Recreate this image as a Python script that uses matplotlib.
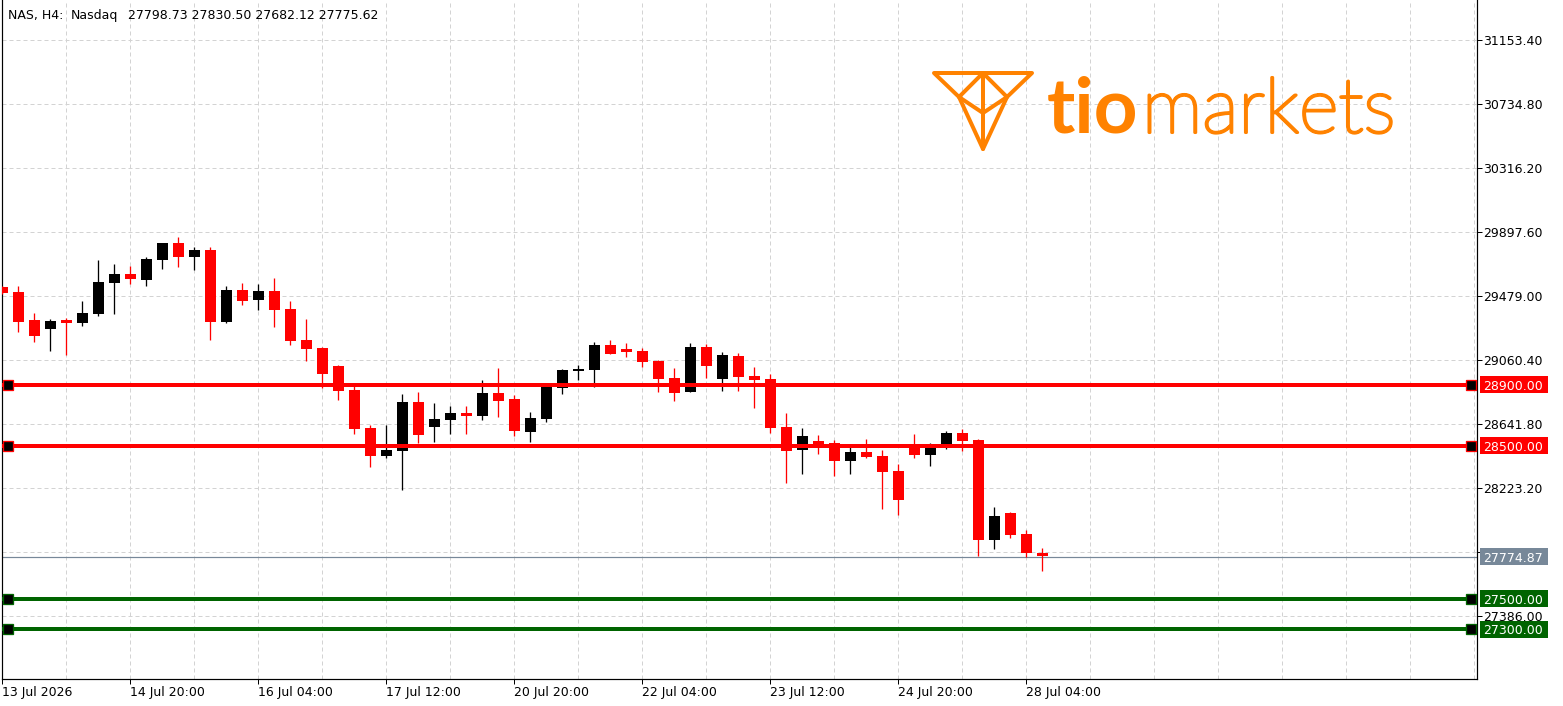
import matplotlib
matplotlib.use("Agg")
import matplotlib.pyplot as plt
import matplotlib.transforms as mtransforms
import matplotlib.patheffects as pe
from matplotlib.patches import Rectangle, Polygon
import numpy as np

# ---------------- data ----------------
header_symbol = "NAS, H4:"
header_name = "Nasdaq"
header_ohlc = [27798.73, 27830.50, 27682.12, 27775.62]

opens = [29540, 29507, 29324, 29265, 29324, 29304, 29363, 29566, 29623, 29586,
         29716, 29826, 29736, 29780, 29311, 29518, 29455, 29512, 29394, 29191,
         29139, 29021, 28864, 28616, 28435, 28467, 28786, 28624, 28670, 28714,
         28694, 28845, 28805, 28590, 28675, 28877, 28990, 28995, 29159, 29132,
         29119, 29054, 28943, 28853, 29145, 28938, 29087, 28956, 28936, 28622,
         28474, 28533, 28518, 28402, 28459, 28433, 28334, 28485, 28441, 28487,
         28583, 28537, 27885, 28060, 27922, 27798.73]
highs = [29545, 29546, 29370, 29329, 29335, 29448, 29714, 29690, 29675, 29734,
         29828, 29865, 29798, 29800, 29544, 29564, 29558, 29597, 29446, 29329,
         29144, 29028, 28890, 28635, 28637, 28838, 28851, 28779, 28762, 28760,
         28930, 29008, 28832, 28720, 28897, 29002, 29028, 29178, 29191, 29172,
         29139, 29060, 29008, 29172, 29165, 29113, 29106, 29015, 28969, 28714,
         28616, 28570, 28537, 28505, 28544, 28472, 28380, 28576, 28518, 28596,
         28609, 28544, 28099, 28066, 27949, 27830.50]
lows = [29495, 29245, 29180, 29121, 29093, 29283, 29350, 29363, 29559, 29546,
        29658, 29671, 29651, 29193, 29304, 29422, 29389, 29278, 29160, 29056,
        28879, 28801, 28578, 28363, 28421, 28212, 28520, 28526, 28578, 28578,
        28670, 28688, 28563, 28524, 28655, 28840, 28930, 28884, 29100, 29082,
        29017, 28853, 28794, 28850, 28945, 28860, 28860, 28748, 28585, 28258,
        28317, 28448, 28304, 28317, 28421, 28088, 28049, 28421, 28369, 28480,
        28467, 27780, 27826, 27898, 27774, 27682.12]
closes = [29501, 29311, 29219, 29316, 29304, 29368, 29571, 29623, 29592, 29721,
          29826, 29736, 29780, 29311, 29518, 29448, 29512, 29389, 29187, 29134,
          28971, 28860, 28609, 28435, 28472, 28786, 28572, 28675, 28714, 28694,
          28845, 28792, 28598, 28681, 28884, 28995, 29001, 29159, 29102, 29113,
          29049, 28938, 28847, 29145, 29023, 29093, 28951, 28932, 28618, 28467,
          28563, 28498, 28402, 28459, 28428, 28330, 28147, 28441, 28504, 28583,
          28533, 27885, 28040, 27918, 27800, 27775.62]

x_tick_index = [0, 8, 16, 24, 32, 40, 48, 56, 64]
x_tick_labels = ["13 Jul 2026", "14 Jul 20:00", "16 Jul 04:00", "17 Jul 12:00",
                 "20 Jul 20:00", "22 Jul 04:00", "23 Jul 12:00", "24 Jul 20:00",
                 "28 Jul 04:00"]
y_ticks = [31153.40, 30734.80, 30316.20, 29897.60, 29479.00, 29060.40,
           28641.80, 28223.20, 27804.60, 27386.00]
resistance_levels = [28900.00, 28500.00]
support_levels = [27500.00, 27300.00]
current_price = 27774.87

# ---------------- styling ----------------
W, H = 1563, 706
DPI = 100
PX = 72.0 / DPI
RED = "#ff0000"
GREEN = "#006400"
GRAY = "#778899"
GRID = "#d3d3d3"
ORANGE = "#ff8200"
FS = 9

plt.rcParams["font.family"] = ["DejaVu Sans"]

fig = plt.figure(figsize=(W / DPI, H / DPI), dpi=DPI)
ax_left, ax_right, ax_top, ax_bottom = 2.3, 1477.3, 0.0, 679.0
ax = fig.add_axes([ax_left / W, (H - ax_bottom) / H,
                   (ax_right - ax_left) / W, (ax_bottom - ax_top) / H])

y_lo, y_hi = 26973.94, 31415.03
ax.set_ylim(y_lo, y_hi)
ax.set_xlim(0, 92.1875)
px_per_data_y = (ax_bottom - ax_top) / (y_hi - y_lo)
data_per_px_y = 1.0 / px_per_data_y
ax_w_px = ax_right - ax_left

# grid
ax.set_xticks(np.arange(0, 93, 4), minor=True)
ax.set_xticks(x_tick_index)
ax.set_xticklabels(x_tick_labels, fontsize=FS)
for lab in ax.get_xticklabels():
    lab.set_horizontalalignment("left")
ax.set_yticks(y_ticks)
ax.set_yticklabels([f"{v:.2f}" for v in y_ticks], fontsize=FS)
ax.yaxis.tick_right()
ax.tick_params(axis="y", which="major", length=4.5 * PX, width=PX, pad=1.5 * PX, direction="out")
ax.tick_params(axis="x", which="major", length=4.5 * PX, width=PX, pad=2.5 * PX, direction="out")
ax.tick_params(axis="x", which="minor", length=0)
ax.grid(True, which="both", axis="x", color=GRID, lw=PX, linestyle=(0, (4, 3)))
ax.grid(True, which="major", axis="y", color=GRID, lw=PX, linestyle=(0, (4, 3)))
ax.set_axisbelow(True)
for s in ["left", "right", "bottom"]:
    ax.spines[s].set_linewidth(PX * 1.2)
    ax.spines[s].set_color("black")
ax.spines["top"].set_visible(False)

# current price line (under candles)
ax.axhline(current_price, color=GRAY, lw=PX * 1.2, zorder=2)

# candles
idx = np.arange(len(opens))
o = np.array(opens, float)
h = np.array(highs, float)
l = np.array(lows, float)
c = np.array(closes, float)
cols = np.where(c < o, RED, "black")
ax.vlines(idx, l, h, colors=cols, lw=PX * 1.3, zorder=3)
body_bottom = np.minimum(o, c)
body_h = np.maximum(np.abs(c - o), 1.2 * data_per_px_y)
ax.bar(idx, body_h, bottom=body_bottom, width=11 / 16, color=cols, lw=0, zorder=3.1)

# level lines, end markers and price boxes
blend = mtransforms.blended_transform_factory(ax.transAxes, ax.transData)
box_x0 = (1480 - ax_left) / ax_w_px
box_w = 68 / ax_w_px
box_h = 17 * data_per_px_y
for lvl_list, colr in [(resistance_levels, RED), (support_levels, GREEN)]:
    for lvl in lvl_list:
        ax.axhline(lvl, color=colr, lw=4 * PX, zorder=4)
        ax.plot([(8.3 - ax_left) / ax_w_px, (1471.3 - ax_left) / ax_w_px], [lvl, lvl],
                transform=blend, ls="none", marker="s", ms=10.5 * PX, mfc="black",
                mec=colr, mew=1.3 * PX, zorder=5, clip_on=False)

def price_box(val, colr):
    ax.add_patch(Rectangle((box_x0, val - box_h / 2), box_w, box_h, transform=blend,
                           facecolor=colr, edgecolor="none", zorder=6, clip_on=False))
    ax.text(box_x0 + 3.5 / ax_w_px, val, f"{val:.2f}", transform=blend, ha="left",
            va="center_baseline", color="white", fontsize=FS, zorder=7, clip_on=False)

for lvl in resistance_levels:
    price_box(lvl, RED)
for lvl in support_levels:
    price_box(lvl, GREEN)
price_box(current_price, GRAY)

# ---------------- overlay (header + logo) in pixel coords ----------------
ov = fig.add_axes([0, 0, 1, 1], zorder=10)
ov.set_xlim(0, W)
ov.set_ylim(H, 0)
ov.axis("off")
ov.patch.set_alpha(0)

ov.text(8, 19, header_symbol, fontsize=FS, va="baseline", ha="left")
ov.text(70.7, 19, header_name, fontsize=FS, va="baseline", ha="left")
ov.text(128.3, 19, " ".join(f"{v:.2f}" for v in header_ohlc), fontsize=FS,
        va="baseline", ha="left")

# logo icon
lw_logo = 4 * PX
outline = [(934, 73), (1032, 73), (1007, 97), (983, 149), (959, 97)]
ov.add_patch(Polygon(outline, closed=True, fill=False, edgecolor=ORANGE, lw=lw_logo,
                     joinstyle="round", capstyle="round"))
segs = [[(983, 73), (959, 97)], [(983, 73), (1007, 97)], [(959, 97), (983, 113)],
        [(1007, 97), (983, 113)], [(983, 73), (983, 149)]]
for sg in segs:
    xs, ys = zip(*sg)
    ov.plot(xs, ys, color=ORANGE, lw=lw_logo, solid_capstyle="round")

ov.text(1047, 132.5, "tio", family=["Lato", "DejaVu Sans"], fontweight="bold",
        fontsize=55, color=ORANGE, va="baseline", ha="left")
ov.text(1142, 132.5, "markets", family=["Lato", "DejaVu Sans"], fontweight="light",
        fontsize=55, color=ORANGE, va="baseline", ha="left",
        path_effects=[pe.withStroke(linewidth=2.2, foreground=ORANGE)])

fig.savefig("out.png", dpi=DPI)
